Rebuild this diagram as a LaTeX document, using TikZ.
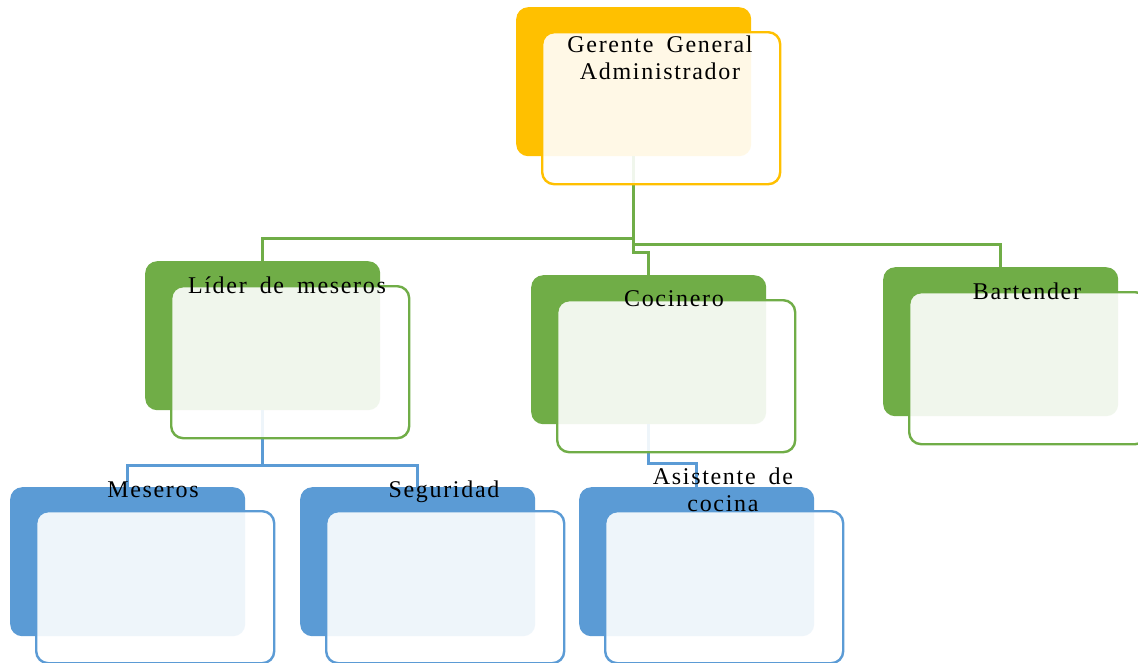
\documentclass[tikz,border=0pt]{standalone}
\usepackage{fontspec}
\setmainfont{Liberation Serif}[LetterSpace=7,WordSpace=1.7]
\definecolor{orgGold}{HTML}{FFC000}
\definecolor{orgGreen}{HTML}{70AD47}
\definecolor{orgBlue}{HTML}{5B9BD5}
\begin{document}
\begin{tikzpicture}[x=1pt,y=-1pt,
  back/.style={rectangle, rounded corners=12pt, minimum width=235pt, minimum height=149pt, inner sep=0pt, anchor=north west},
  front/.style={rectangle, rounded corners=12pt, line width=2.4pt, fill=white, fill opacity=0.9, minimum width=238pt, minimum height=152pt, inner sep=0pt, anchor=north west},
  lbl/.style={anchor=base, align=center, inner sep=0pt, font=\fontsize{24}{27}\selectfont},
  lnk/.style={line width=2.6pt}]
\useasboundingbox[fill=white] (0,0) rectangle (1138,662);
\node[back, fill=orgGold] (gb) at (516,7){};
\node[back, fill=orgGreen] (lb) at (145,261){};
\node[back, fill=orgGreen] (cb) at (531,275){};
\node[back, fill=orgGreen] (bb) at (883,267){};
\node[back, fill=orgBlue] (mb) at (10,487){};
\node[back, fill=orgBlue] (sb) at (300,487){};
\node[back, fill=orgBlue] (ab) at (579,487){};
\draw[lnk, orgGreen] (gb.south) -- ++(0,82) -| (lb.north);
\draw[lnk, orgGreen] (gb.south) -- ++(0,88) -| (bb.north);
\draw[lnk, orgGreen] (gb.south) -- ++(0,96) -| (cb.north);
\draw[lnk, orgBlue] (lb.south) -- ++(0,55) -| (mb.north);
\draw[lnk, orgBlue] (lb.south) -- ++(0,55) -| (sb.north);
\draw[lnk, orgBlue] (cb.south) -- ++(0,39) -| (ab.north);
\node[front, draw=orgGold] (gf) at (541,31){};
\node[front, draw=orgGreen] (lf) at (170,285){};
\node[front, draw=orgGreen] (cf) at (556,299){};
\node[front, draw=orgGreen] (bf) at (908,291){};
\node[front, draw=orgBlue] (mf) at (35,510){};
\node[front, draw=orgBlue] (sf) at (325,510){};
\node[front, draw=orgBlue] (af) at (604,510){};
\node[lbl] (gt) at (660,79){Gerente General\\Administrador};
\node[lbl] (lt) at (287,293){Líder de meseros};
\node[lbl] (ct) at (674,306){Cocinero};
\node[lbl] (bt) at (1027,299){Bartender};
\node[lbl] (mt) at (153,497){Meseros};
\node[lbl] (st) at (444,497){Seguridad};
\node[lbl] (at) at (723,511){Asistente de\\cocina};
\end{tikzpicture}
\end{document}
